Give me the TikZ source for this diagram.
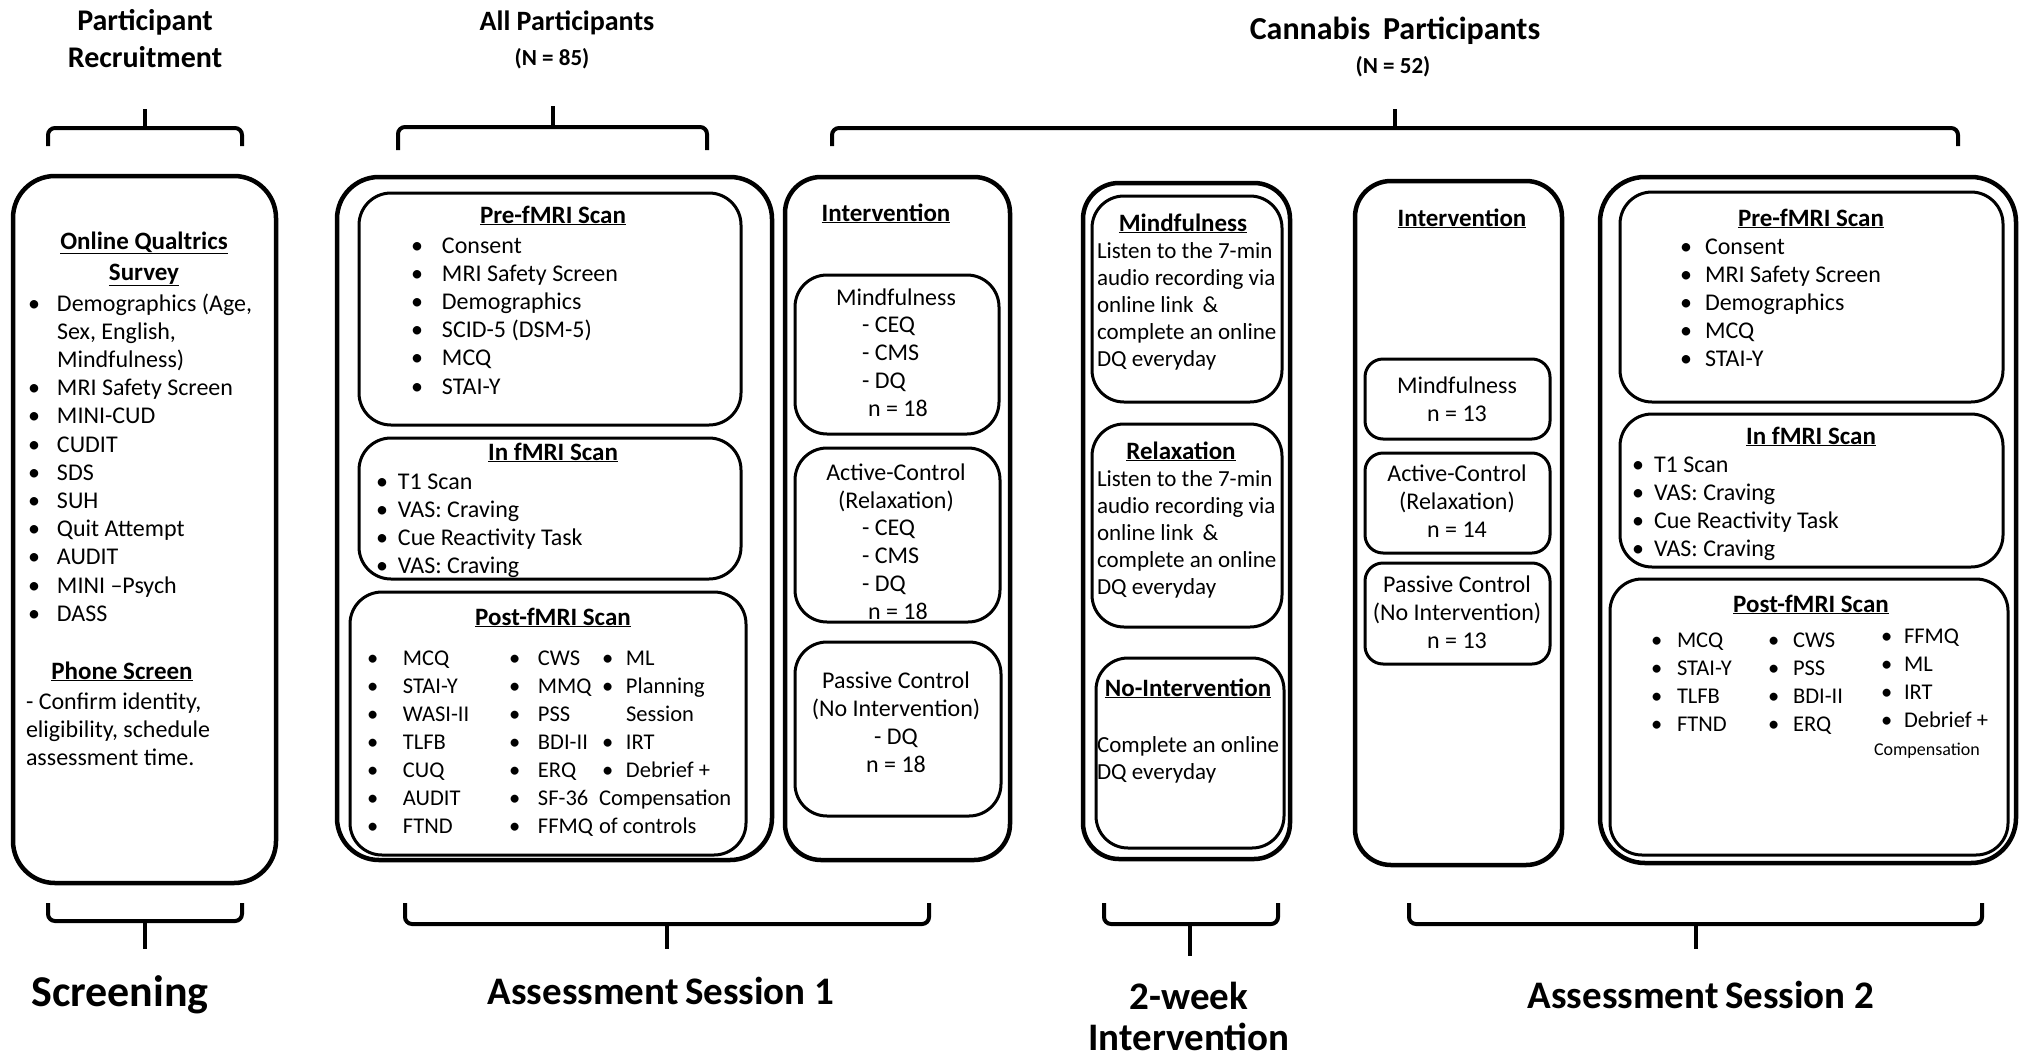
\documentclass[tikz,border=0pt]{standalone}
\usepackage{fontspec}
\setmainfont{Carlito}
\newcommand\bodyf{\fontsize{24}{28.2}\selectfont}
\newcommand\postf{\fontsize{22.5}{28}\selectfont}
\newcommand\smallbodyf{\fontsize{23}{27.2}\selectfont}
\newcommand\ttlf{\fontsize{25}{31}\selectfont\bfseries}
\newcommand\bu{\textbullet}
\newcommand\blist[2]{\begin{tabular}[t]{@{}p{#1pt}@{}l@{}}#2\end{tabular}}
\newcommand\clines[1]{\begin{tabular}[t]{@{}c@{}}#1\end{tabular}}
\newcommand\llines[1]{\begin{tabular}[t]{@{}l@{}}#1\end{tabular}}
\begin{document}
\begin{tikzpicture}[x=1pt,y=-1pt,
  every node/.style={inner sep=0pt,outer sep=0pt},
  obox/.style={line width=4.5pt,rounded corners=42pt},
  ibox/.style={line width=3pt,rounded corners=32pt},
  sbox/.style={line width=3pt,rounded corners=18pt},
  brc/.style={line width=4pt,rounded corners=7pt},
  tk/.style={line width=3.5pt},
  body/.style={font=\bodyf},
  post/.style={font=\postf},
  sbody/.style={font=\smallbodyf},
  ttl/.style={font=\ttlf,anchor=base},
  hdr/.style={font=\fontsize{30}{36}\selectfont\bfseries,anchor=base},
  nsub/.style={font=\fontsize{23}{26}\selectfont\bfseries,anchor=base},
  foot/.style={font=\fontsize{39}{43}\selectfont\bfseries,anchor=base}]
\fill[white] (0,0) rectangle (2031,1057);
\useasboundingbox (0,0) rectangle (2031,1057);

% ---------- headers ----------
\node[hdr] (hRec) at (145,31) {\clines{Participant\\Recruitment}};
\node[hdr,font=\fontsize{28}{32}\selectfont\bfseries] (hAll) at (567,31) {All Participants};
\node[nsub] (hAllN) at (552,66) {(N = 85)};
\node[hdr,font=\fontsize{32}{36}\selectfont\bfseries] (hCan) at (1395,40) {Cannabis\, Participants};
\node[nsub] (hCanN) at (1393,74) {(N = 52)};

% ---------- top braces ----------
\draw[brc] (48,146) -- (48,128) -- (242,128) -- (242,146);
\draw[tk] (145,129) -- (145,109);
\draw[brc] (398,150) -- (398,127) -- (707,127) -- (707,150);
\draw[tk] (553,128) -- (553,106);
\draw[brc] (832,146) -- (832,128) -- (1958,128) -- (1958,146);
\draw[tk] (1395,129) -- (1395,109);

% ---------- bottom braces ----------
\draw[brc] (48,903) -- (48,921) -- (242,921) -- (242,903);
\draw[tk] (145,920) -- (145,949);
\draw[brc] (405,903) -- (405,924) -- (929,924) -- (929,903);
\draw[tk] (667,923) -- (667,949);
\draw[brc] (1104,903) -- (1104,924) -- (1278,924) -- (1278,903);
\draw[tk] (1190,923) -- (1190,956);
\draw[brc] (1409,903) -- (1409,924) -- (1982,924) -- (1982,903);
\draw[tk] (1696,923) -- (1696,949);

% ---------- footer labels ----------
\node[foot,font=\fontsize{44}{48}\selectfont\bfseries] (fScr) at (120,1006) {Screening};
\node[foot] (fS1) at (661,1004) {Assessment\,Session 1};
\node[foot] (fInt1) at (1189,1009) {2-week};
\node[foot] (fInt2) at (1189,1050) {Intervention};
\node[foot] (fS2) at (1701,1008) {Assessment\,Session 2};

% ---------- Screening box ----------
\draw[obox] (13,176) rectangle (276,883);
\node[ttl] (scrT) at (144,249) {\clines{\underline{Online Qualtrics}\\\underline{Survey}}};
\node[body,anchor=base west] (scrL) at (28,311) {\blist{29}{\bu&Demographics (Age,\\ &Sex, English,\\ &Mindfulness)\\ \bu&MRI Safety Screen\\ \bu&MINI-CUD\\ \bu&CUDIT\\ \bu&SDS\\ \bu&SUH\\ \bu&Quit Attempt\\ \bu&AUDIT\\ \bu&MINI –Psych\\ \bu&DASS}};
\node[ttl] (phT) at (122,679) {\underline{Phone Screen}};
\node[body,anchor=base west] (phL) at (26,709) {\llines{- Confirm identity,\\eligibility, schedule\\assessment time.}};

% ---------- Assessment Session 1 ----------
\draw[obox] (337,177) rectangle (772,860);
\draw[ibox] (359,193) rectangle (741,425);
\node[ttl] (p1T) at (553,223) {\underline{Pre-fMRI Scan}};
\node[body,anchor=base west] (p1L) at (411,253) {\blist{31}{\bu&Consent\\ \bu&MRI Safety Screen\\ \bu&Demographics\\ \bu&SCID-5 (DSM-5)\\ \bu&MCQ\\ \bu&STAI-Y}};
\draw[ibox] (359,438) rectangle (741,579);
\node[ttl] (i1T) at (553,460) {\underline{In fMRI Scan}};
\node[body,anchor=base west] (i1L) at (376,489) {\blist{22}{\bu&T1 Scan\\ \bu&VAS: Craving\\ \bu&Cue Reactivity Task\\ \bu&VAS: Craving}};
\draw[ibox] (350,592) rectangle (746,855);
\node[ttl] (q1T) at (553,625) {\underline{Post-fMRI Scan}};
\node[post,anchor=base west] (q1A) at (367,665) {\blist{36}{\bu&MCQ\\ \bu&STAI-Y\\ \bu&WASI-II\\ \bu&TLFB\\ \bu&CUQ\\ \bu&AUDIT\\ \bu&FTND}};
\node[post,anchor=base west] (q1B) at (509,665) {\blist{29}{\bu&CWS\\ \bu&MMQ\\ \bu&PSS\\ \bu&BDI-II\\ \bu&ERQ\\ \bu&SF-36\\ \bu&FFMQ}};
\node[post,anchor=base west] (q1C) at (602,665) {\blist{24}{\bu&ML\\ \bu&Planning\\ &Session\\ \bu&IRT\\ \bu&Debrief +\\ \multicolumn{2}{@{\hspace{-3pt}}l@{}}{Compensation}\\ \multicolumn{2}{@{\hspace{-3pt}}l@{}}{of controls}}};

% ---------- Intervention (session 1) ----------
\draw[obox,rounded corners=36pt] (785,177) rectangle (1010,860);
\node[ttl] (v1T) at (886,221) {\underline{Intervention}};
\draw[ibox] (795,275) rectangle (999,434);
\node[body,anchor=base] (v1m) at (896,305) {Mindfulness};
\node[body,anchor=base west] (v1mL) at (862,332) {\llines{- CEQ\\- CMS\\- DQ\\\hspace{6pt}n = 18}};
\draw[ibox] (795,448) rectangle (1000,622);
\node[body,anchor=base] (v1a) at (896,480) {\clines{Active-Control\\(Relaxation)}};
\node[body,anchor=base west] (v1aL) at (862,535) {\llines{- CEQ\\- CMS\\- DQ\\\hspace{6pt}n = 18}};
\draw[ibox] (795,642) rectangle (1001,816);
\node[body,anchor=base] (v1p) at (896,688) {\clines{Passive Control\\(No Intervention)\\- DQ\\n = 18}};

% ---------- 2-week Intervention ----------
\draw[obox,rounded corners=36pt] (1083,183) rectangle (1290,859);
\draw[ibox] (1092,196) rectangle (1282,402);
\node[ttl] (wmT) at (1183,231) {\underline{Mindfulness}};
\node[sbody,anchor=base west] (wmL) at (1097,258) {\llines{Listen to the 7-min\\audio recording via\\online link \,\&\\complete an online\\DQ everyday}};
\draw[ibox] (1092,424) rectangle (1282,627);
\node[ttl] (wrT) at (1181,459) {\underline{Relaxation}};
\node[sbody,anchor=base west] (wrL) at (1097,486) {\llines{Listen to the 7-min\\audio recording via\\online link \,\&\\complete an online\\DQ everyday}};
\draw[ibox] (1096,658) rectangle (1284,848);
\node[ttl] (wnT) at (1188,696) {\underline{No-Intervention}};
\node[sbody,anchor=base west] (wnL) at (1097,752) {\llines{Complete an online\\DQ everyday}};

% ---------- Intervention (session 2) ----------
\draw[obox,rounded corners=36pt] (1355,181) rectangle (1562,865);
\node[ttl] (v2T) at (1462,226) {\underline{Intervention}};
\draw[sbox] (1365,359) rectangle (1550,439);
\node[body,anchor=base] (v2m) at (1457,393) {\clines{Mindfulness\\n = 13}};
\draw[sbox] (1365,453) rectangle (1550,553);
\node[body,anchor=base] (v2a) at (1457,481) {\clines{Active-Control\\(Relaxation)\\n = 14}};
\draw[sbox] (1365,563) rectangle (1550,664);
\node[body,anchor=base] (v2p) at (1457,592) {\clines{Passive Control\\(No Intervention)\\n = 13}};

% ---------- Assessment Session 2 ----------
\draw[obox,rounded corners=45pt] (1600,177) rectangle (2016,863);
\draw[ibox] (1620,192) rectangle (2003,402);
\node[ttl] (p2T) at (1811,226) {\underline{Pre-fMRI Scan}};
\node[body,anchor=base west] (p2L) at (1680,254) {\blist{25}{\bu&Consent\\ \bu&MRI Safety Screen\\ \bu&Demographics\\ \bu&MCQ\\ \bu&STAI-Y}};
\draw[ibox] (1620,414) rectangle (2003,567);
\node[ttl] (i2T) at (1811,444) {\underline{In fMRI Scan}};
\node[body,anchor=base west] (i2L) at (1632,472) {\blist{22}{\bu&T1 Scan\\ \bu&VAS: Craving\\ \bu&Cue Reactivity Task\\ \bu&VAS: Craving}};
\draw[ibox] (1610,579) rectangle (2008,855);
\node[ttl] (q2T) at (1811,612) {\underline{Post-fMRI Scan}};
\node[post,anchor=base west] (q2A) at (1651,647) {\blist{26}{\bu&MCQ\\ \bu&STAI-Y\\ \bu&TLFB\\ \bu&FTND}};
\node[post,anchor=base west] (q2B) at (1768,647) {\blist{25}{\bu&CWS\\ \bu&PSS\\ \bu&BDI-II\\ \bu&ERQ}};
\node[post,anchor=base west] (q2C) at (1881,643) {\blist{23}{\bu&FFMQ\\ \bu&ML\\ \bu&IRT\\ \bu&Debrief +}};
\node[font=\fontsize{18}{20}\selectfont,anchor=base west] (q2D) at (1874,755) {Compensation};
\end{tikzpicture}
\end{document}
